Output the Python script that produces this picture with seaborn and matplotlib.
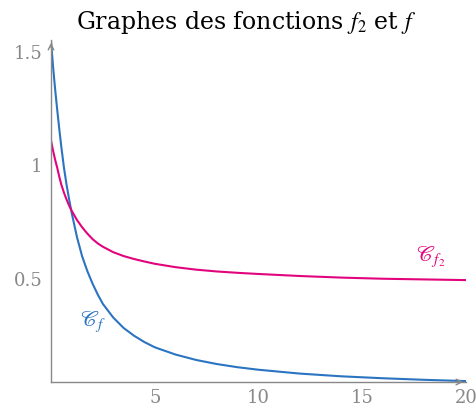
import matplotlib
matplotlib.use("Agg")
import matplotlib.pyplot as plt
import seaborn as sns
import pandas as pd

x_vals = [0, 0.1, 0.2, 0.3, 0.4, 0.5, 0.625, 0.75, 0.875, 1, 1.25, 1.5, 1.75, 2, 2.25, 2.5, 3, 3.5, 4, 4.5, 5, 6, 7, 8, 9, 10, 12, 14, 16, 18, 20]
f_vals = [1.55, 1.435, 1.335, 1.245, 1.16, 1.08, 0.99, 0.915, 0.85, 0.79, 0.685, 0.60, 0.535, 0.48, 0.432, 0.39, 0.33, 0.284, 0.25, 0.222, 0.199, 0.167, 0.143, 0.125, 0.111, 0.10, 0.083, 0.071, 0.0625, 0.0556, 0.05]
f2_vals = [1.11, 1.065, 1.025, 0.99, 0.95, 0.915, 0.88, 0.85, 0.823, 0.80, 0.76, 0.728, 0.70, 0.676, 0.657, 0.642, 0.618, 0.601, 0.588, 0.577, 0.567, 0.552, 0.541, 0.533, 0.527, 0.522, 0.513, 0.506, 0.501, 0.498, 0.495]
x_ticks = [5, 10, 15, 20]
y_ticks = [0.5, 1, 1.5]

df = pd.DataFrame({"x": x_vals + x_vals,
                   "y": f_vals + f2_vals,
                   "curve": ["f"] * len(x_vals) + ["f2"] * len(x_vals)})

sns.set_theme(style="white")
plt.rcParams["font.family"] = ["DejaVu Serif"]
plt.rcParams["mathtext.fontset"] = "stix"

blue = "#2b74c1"
pink = "#e2047d"
gray = "#888888"

fig = plt.figure(figsize=(4.77, 4.09), dpi=100)
ax = fig.add_axes([51 / 477, 1 - 382 / 409, 415 / 477, 342 / 409])
sns.lineplot(data=df, x="x", y="y", hue="curve", palette={"f": blue, "f2": pink},
             ax=ax, legend=False, linewidth=1.5, sort=False, estimator=None)

ax.set_xlim(0, 20)
ax.set_ylim(0.046, 1.553)
ax.set_xticks(x_ticks)
ax.set_xticklabels([str(t) for t in x_ticks])
ax.set_yticks(y_ticks)
ax.set_yticklabels(["0.5", "1", "1.5"])
ax.set_xlabel("")
ax.set_ylabel("")
for s in ["top", "right"]:
    ax.spines[s].set_visible(False)
for s in ["left", "bottom"]:
    ax.spines[s].set_color(gray)
    ax.spines[s].set_linewidth(1.0)
ax.tick_params(axis="both", direction="inout", length=8, width=1, color=gray,
               labelcolor=gray, labelsize=13, pad=2)
ax.tick_params(axis="x", pad=1)

# arrow heads
ax.annotate("", xy=(1.0, 0), xytext=(0.97, 0), xycoords="axes fraction",
            arrowprops=dict(arrowstyle="->", color=gray, lw=1, mutation_scale=10))
ax.annotate("", xy=(0, 1.0), xytext=(0, 0.97), xycoords="axes fraction",
            arrowprops=dict(arrowstyle="->", color=gray, lw=1, mutation_scale=10))

ax.text(1.4, 0.31, r"$\mathscr{C}_f$", color=blue, fontsize=16, ha="left", va="center")
ax.text(17.6, 0.60, r"$\mathscr{C}_{f_2}$", color=pink, fontsize=16, ha="left", va="center")

fig.text(246 / 477, 1 - 22 / 409, r"Graphes des fonctions $f_2$ et $f$", ha="center",
         va="center", fontsize=17, color="black")

fig.savefig("out.png", dpi=100)
